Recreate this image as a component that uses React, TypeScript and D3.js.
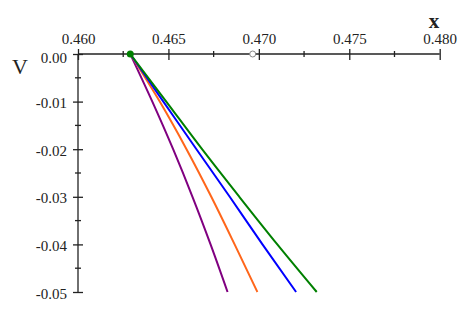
import * as d3 from 'd3';
import React, { useEffect, useRef } from 'react';

const W = 468;
const H = 311;

const xTicks = [0.460, 0.465, 0.470, 0.475, 0.480];
const xMinor = [0.4625, 0.4675, 0.4725, 0.4775];
const yTicks = [0, -0.01, -0.02, -0.03, -0.04, -0.05];
const yMinor = [-0.005, -0.015, -0.025, -0.035, -0.045];

// V levels shared by all curves
const vLevels = [0, -0.01, -0.02, -0.03, -0.04, -0.05];
// x position of each curve at those levels
const purpleX = [0.46289, 0.46411, 0.46526, 0.46633, 0.46733, 0.46827];
const orangeX = [0.46289, 0.46452, 0.46600, 0.46737, 0.46866, 0.46992];
const blueX = [0.46289, 0.46472, 0.46655, 0.46839, 0.47020, 0.47206];
const greenX = [0.46289, 0.46488, 0.46686, 0.46892, 0.47102, 0.47320];

const series = [
  { name: 'purple', color: '#800080', xs: purpleX },
  { name: 'orange', color: '#ff661a', xs: orangeX },
  { name: 'blue', color: '#0000ff', xs: blueX },
  { name: 'green', color: '#008000', xs: greenX },
];

const startPoint = { x: 0.46289, v: 0 };
const openPoint = { x: 0.46966, v: 0 };

export default function App() {
  const svgRef = useRef(null);

  useEffect(() => {
    const svg = d3.select(svgRef.current);
    svg.selectAll('*').remove();

    const x = d3.scaleLinear().domain([0.46, 0.48]).range([78, 439.7]);
    const y = d3.scaleLinear().domain([0, -0.05]).range([54, 292]);
    const font = '"Liberation Serif", "Times New Roman", serif';
    const ink = '#222';

    // curves
    const line = d3.line<[number, number]>()
      .x(d => x(d[0]))
      .y(d => y(d[1]))
      .curve(d3.curveMonotoneY);

    svg.append('g')
      .attr('fill', 'none')
      .selectAll('path')
      .data(series)
      .join('path')
      .attr('d', s => line(s.xs.map((xv, i) => [xv, vLevels[i]] as [number, number])))
      .attr('stroke', s => s.color)
      .attr('stroke-width', 2);

    // x axis (labels on top, ticks crossing the line)
    const xAxis = d3.axisTop(x)
      .tickValues(xTicks)
      .tickSizeOuter(0)
      .tickFormat(d3.format('.3f'));
    const xg = svg.append('g')
      .attr('transform', `translate(0, ${y(0)})`)
      .call(xAxis);
    xg.select('.domain').remove();
    xg.selectAll('line').attr('y1', 6).attr('y2', -5).attr('stroke', ink).attr('stroke-width', 1.3);
    xg.selectAll('text')
      .attr('y', -10)
      .attr('dy', 0)
      .attr('fill', ink)
      .style('font-family', font)
      .style('font-size', '15px');
    xg.selectAll('.minor')
      .data(xMinor)
      .join('line')
      .attr('x1', d => x(d))
      .attr('x2', d => x(d))
      .attr('y1', -3)
      .attr('y2', 3)
      .attr('stroke', ink)
      .attr('stroke-width', 1.3);

    // y axis
    const yAxis = d3.axisLeft(y)
      .tickValues(yTicks)
      .tickSizeOuter(0)
      .tickFormat(d => (d as number).toFixed(2));
    const yg = svg.append('g')
      .attr('transform', `translate(${x(0.46)}, 0)`)
      .call(yAxis);
    yg.select('.domain').remove();
    yg.selectAll('line').attr('x1', 5).attr('x2', -5).attr('stroke', ink).attr('stroke-width', 1.3);
    yg.selectAll('text')
      .attr('x', -11)
      .attr('dy', 0)
      .attr('y', (d: any) => (d === 0 ? 8 : 6))
      .attr('fill', ink)
      .style('font-family', font)
      .style('font-size', '15px');
    yg.selectAll('.minor')
      .data(yMinor)
      .join('line')
      .attr('y1', d => y(d))
      .attr('y2', d => y(d))
      .attr('x1', -3)
      .attr('x2', 3)
      .attr('stroke', ink)
      .attr('stroke-width', 1.3);

    // axis lines
    svg.append('line')
      .attr('x1', x(0.46)).attr('x2', x(0.48))
      .attr('y1', y(0)).attr('y2', y(0))
      .attr('stroke', ink).attr('stroke-width', 1.3);
    svg.append('line')
      .attr('x1', x(0.46)).attr('x2', x(0.46))
      .attr('y1', y(0)).attr('y2', y(-0.05))
      .attr('stroke', ink).attr('stroke-width', 1.3);

    // points
    svg.append('circle')
      .attr('cx', x(openPoint.x))
      .attr('cy', y(openPoint.v))
      .attr('r', 3)
      .attr('fill', 'white')
      .attr('stroke', '#888')
      .attr('stroke-width', 1);
    svg.append('circle')
      .attr('cx', x(startPoint.x))
      .attr('cy', y(startPoint.v))
      .attr('r', 3.5)
      .attr('fill', '#008000');

    // axis titles
    svg.append('text')
      .attr('x', 434)
      .attr('y', 28)
      .attr('text-anchor', 'middle')
      .attr('fill', ink)
      .style('font-family', font)
      .style('font-size', '21px')
      .style('font-weight', 'bold')
      .text('x');
    svg.append('text')
      .attr('x', 20)
      .attr('y', 74)
      .attr('text-anchor', 'middle')
      .attr('fill', ink)
      .style('font-family', font)
      .style('font-size', '22px')
      .text('V');
  }, []);

  return (
    <svg
      ref={svgRef}
      width={W}
      height={H}
      style={{ position: 'absolute', left: 0, top: 0, background: 'white' }}
    />
  );
}
